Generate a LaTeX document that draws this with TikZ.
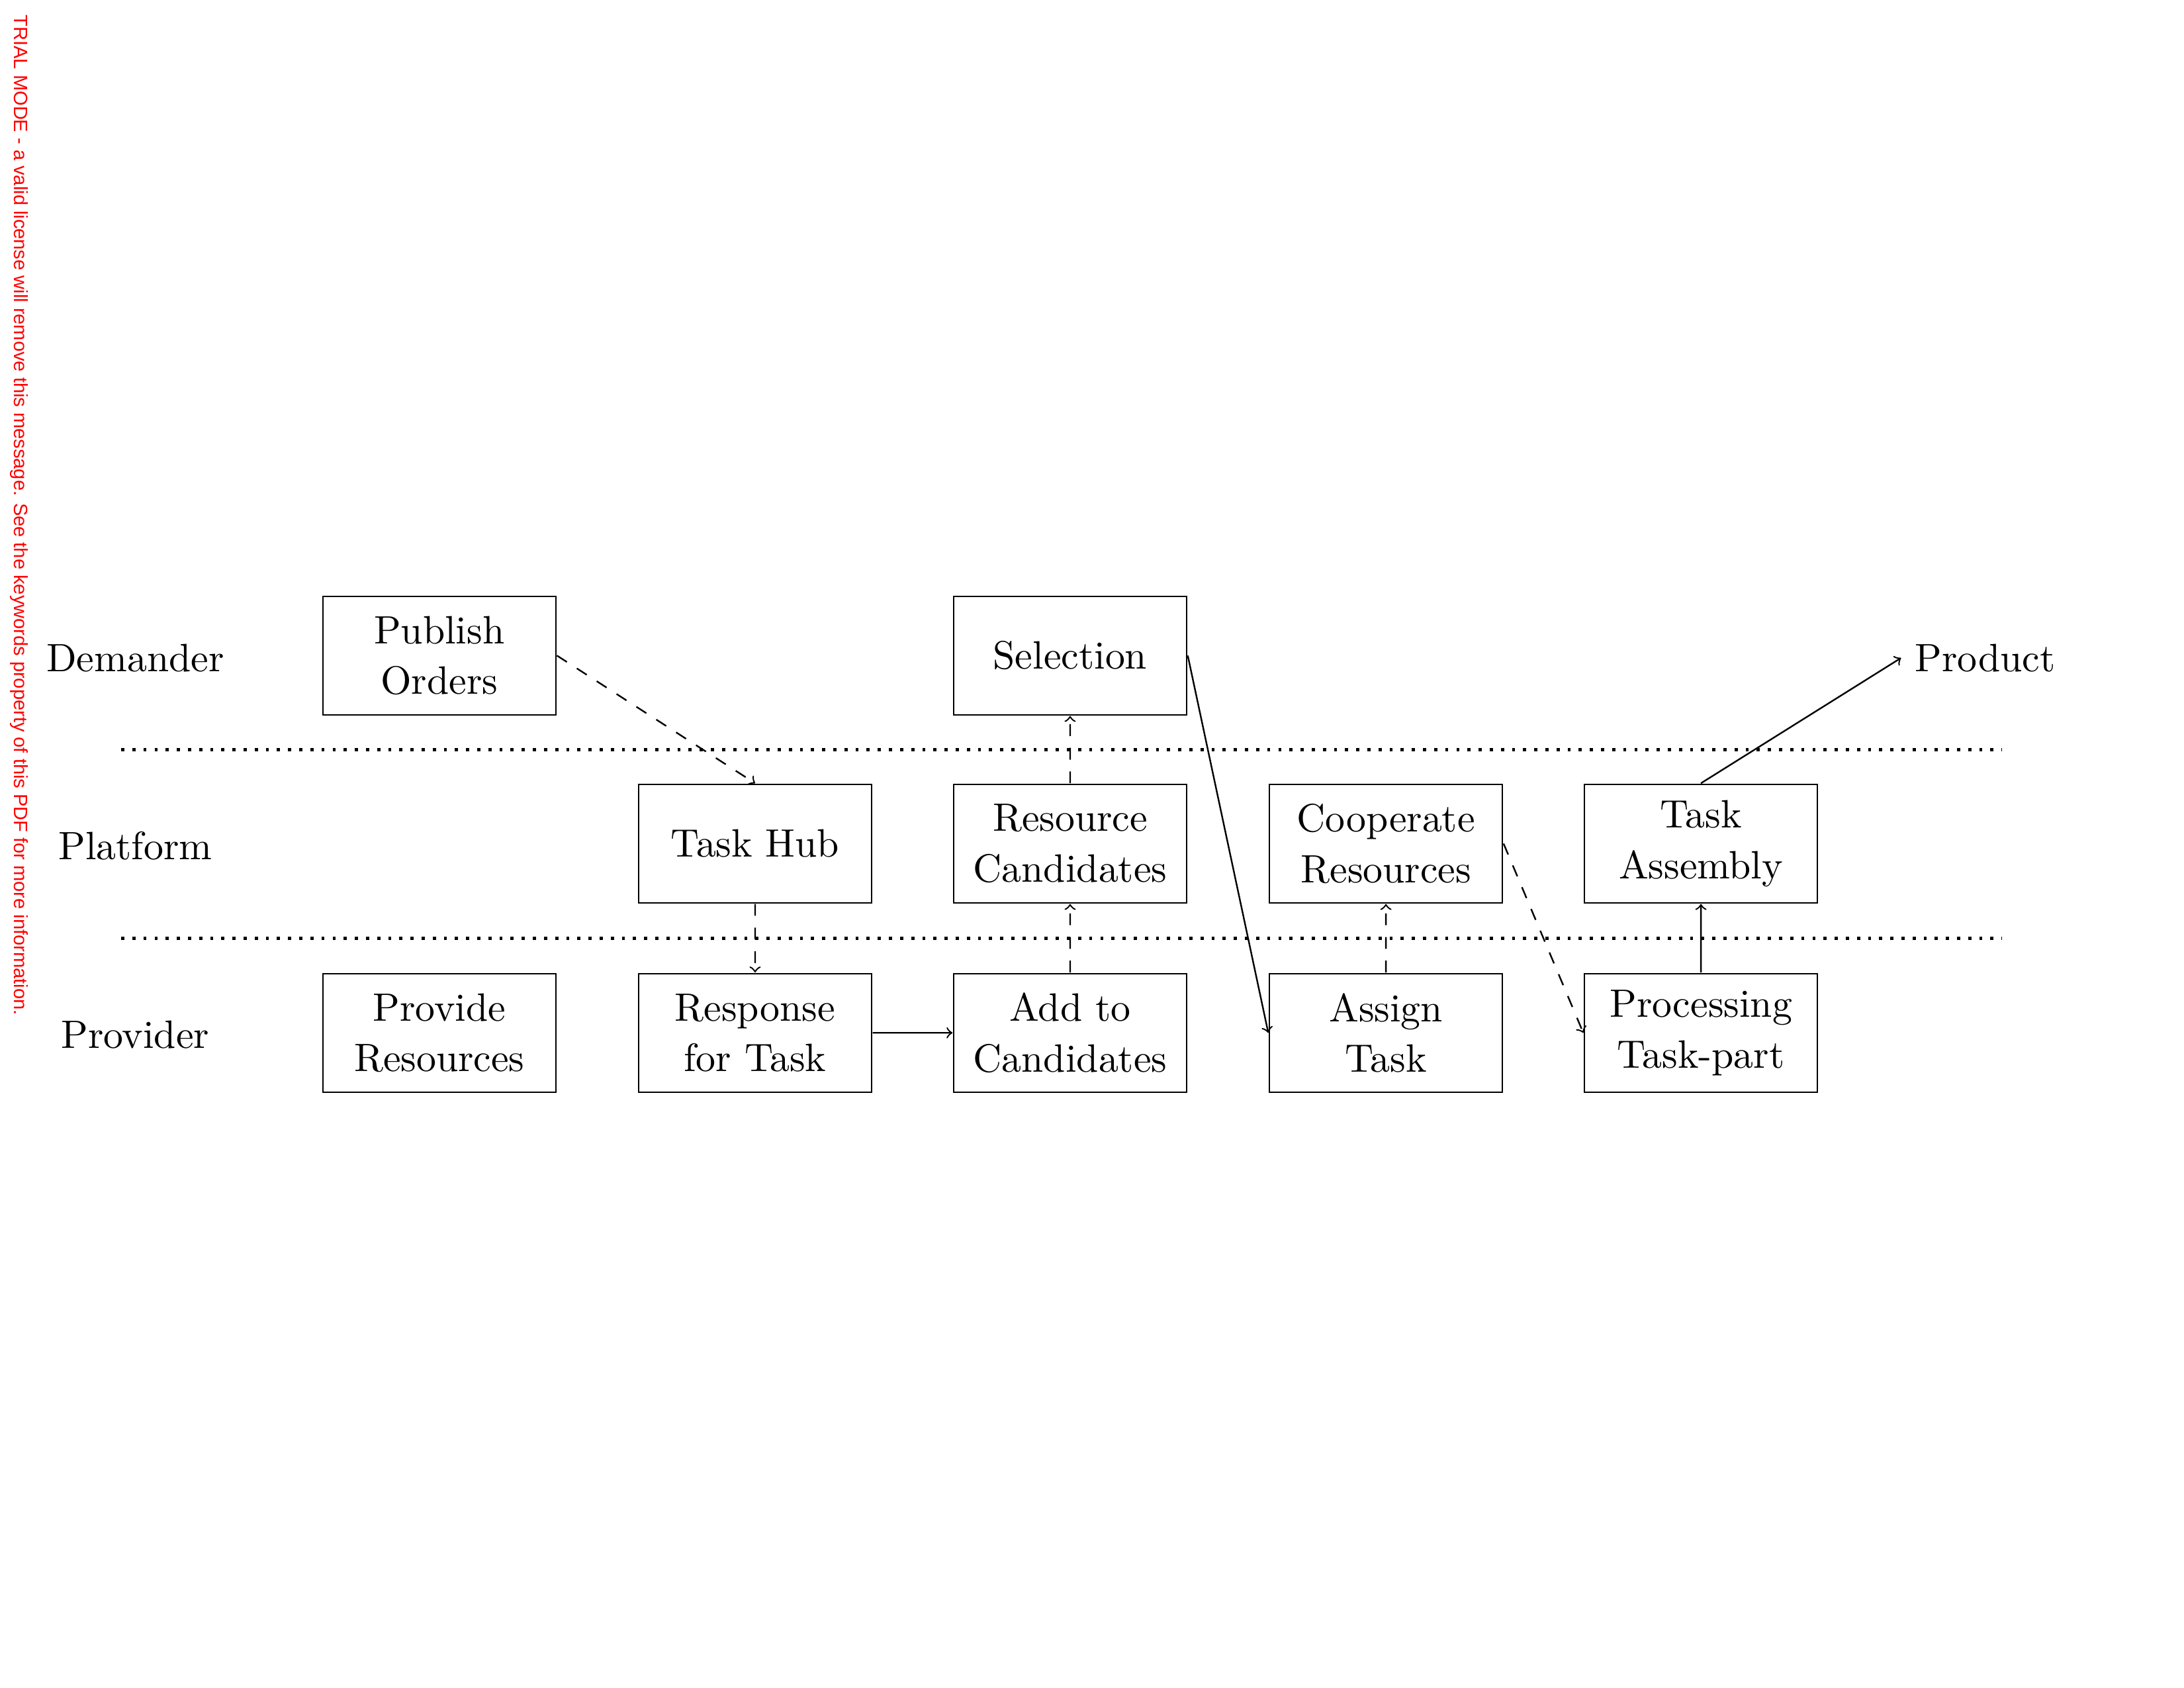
\documentclass[tikz,border=0pt]{standalone}
\usepackage{fontspec}
\newfontfamily\trialfont{Liberation Sans}
\usepackage{tikz}

\begin{document}
\begin{tikzpicture}

\tikzset{step box/.style = {shape=rectangle,draw,line width=0.58pt,scale=1.44,minimum width=2.07cm,minimum height=1.052cm,align=center,font=\fontsize{10}{12.8}\selectfont}}
\tikzset{role/.style = {scale=1.44,font=\fontsize{10}{12.8}\selectfont}}
\tikzset{edge/.style = {->,line width=0.58pt}}
\tikzset{weak/.style = {edge,dash pattern=on 4.3pt off 4.3pt}}
\tikzset{layer/.style = {line width=1.15pt,dash pattern=on 1.15pt off 2.9pt}}

\useasboundingbox (0,0) rectangle (27.94,-21.59);

% watermark
\node[rotate=-90,anchor=base west,inner sep=0pt,text=red,font=\trialfont\fontsize{7}{8}\selectfont] (trial) at (0.178,-0.186) {TRIAL MODE - a valid license will remove this message. See the keywords property of this PDF for more information.};

% roles
\node[role] (dem) at (1.73,-8.415) {Demander};
\node[role] (pla) at (1.73,-10.82) {Platform};
\node[role] (pro) at (1.73,-13.23) {Provider};

% layer borders
\coordinate (l1a) at (1.55,-9.59);
\coordinate (l1b) at (25.61,-9.59);
\coordinate (l2a) at (1.55,-12.0);
\coordinate (l2b) at (25.61,-12.0);
\draw[layer] (l1a) -- (l1b);
\draw[layer] (l2a) -- (l2b);

% steps
\node[step box] (pub) at (5.62,-8.385) {Publish\\Orders};
\node[step box] (sel) at (13.69,-8.385) {Selection};

\node[step box] (hub) at (9.66,-10.79) {Task Hub};
\node[step box] (rcan) at (13.69,-10.79) {Resource\\Candidates};
\node[step box] (coop) at (17.73,-10.79) {Cooperate\\Resources};
\node[step box] (asm) at (21.76,-10.79) {Task\\Assembly};

\node[step box] (prov) at (5.62,-13.21) {Provide\\Resources};
\node[step box] (resp) at (9.66,-13.21) {Response\\for Task};
\node[step box] (add) at (13.69,-13.21) {Add to\\Candidates};
\node[step box] (asg) at (17.73,-13.21) {Assign\\Task};
\node[step box] (proc) at (21.76,-13.21) {Processing\\Task-part};

\node[role,anchor=west] (prod) at (24.32,-8.415) {Product};

%edges
\draw[weak] (pub.east) to (hub.north);
\draw[weak] (hub) to (resp);
\draw[edge] (resp) to (add);
\draw[weak] (add) to (rcan);
\draw[weak] (rcan) to (sel);
\draw[edge] (sel.east) to (asg.west);
\draw[weak] (asg) to (coop);
\draw[weak] (coop.east) to (proc.west);
\draw[edge] (proc) to (asm);
\draw[edge] (asm.north) to (prod.west);

\end{tikzpicture}
\end{document}
